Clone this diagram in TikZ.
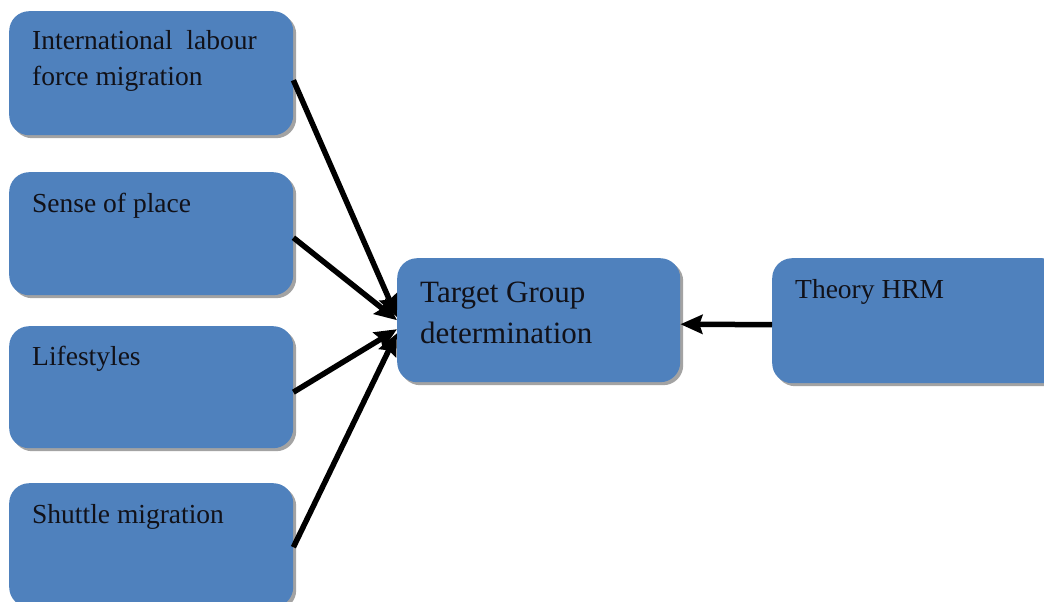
\documentclass[tikz,border=0pt]{standalone}
\usepackage{fontspec}
\setmainfont{Liberation Serif}
\usetikzlibrary{arrows.meta,shadows}
\definecolor{boxblue}{HTML}{4F81BD}
\definecolor{inkdark}{HTML}{111118}
\begin{document}
\begin{tikzpicture}[x=1pt,y=-1pt,
  box/.style 2 args={fill=boxblue, draw=none, rounded corners=20pt,
    minimum width=#1, minimum height=#2, inner sep=0pt, anchor=north west,
    drop shadow={shadow xshift=3pt, shadow yshift=-3pt, fill=black!40, opacity=0.9}},
  lab/.style={anchor=base west, inner sep=0pt, align=left, text=inkdark,
    font=\fontsize{27.5}{35}\selectfont},
  biglab/.style={lab, font=\fontsize{31}{41}\selectfont},
  link/.style={line width=5.5pt, -{Stealth[length=22pt,width=19pt,inset=3pt]}}]
\useasboundingbox (0,0) rectangle (1044,602);

% factor boxes on the left
\node[box={284pt}{124pt}] (b1) at (9,11) {};
\node[box={284pt}{123pt}] (b2) at (9,172) {};
\node[box={284pt}{122pt}] (b3) at (9,326) {};
\node[box={284pt}{124pt}] (b4) at (9,483) {};
% target and theory boxes
\node[box={283pt}{124pt}] (tg) at (397,258) {};
\node[box={290pt}{125pt}] (th) at (772,258) {};

% labels
\node[lab] (l1a) at ([shift={(23,39)}]b1.north west) {International\ \ labour};
\node[lab] (l1b) at ([shift={(23,74)}]b1.north west) {force migration};
\node[lab] (l2) at ([shift={(23,40)}]b2.north west) {Sense of place};
\node[lab] (l3) at ([shift={(23,39)}]b3.north west) {Lifestyles};
\node[lab] (l4) at ([shift={(23,40)}]b4.north west) {Shuttle migration};
\node[biglab] (lta) at ([shift={(23,44)}]tg.north west) {Target Group};
\node[biglab] (ltb) at ([shift={(23,85)}]tg.north west) {determination};
\node[lab] (lh) at ([shift={(23,40)}]th.north west) {Theory HRM};

% connectors
\draw[link] ([yshift=-7pt]b1.east) -- ([yshift=3pt]tg.west);
\draw[link] ([yshift=-4pt]b2.east) -- ([yshift=0pt]tg.west);
\draw[link] ([yshift=-5pt]b3.east) -- ([yshift=-9pt]tg.west);
\draw[link] ([yshift=-2pt]b4.east) -- ([yshift=-13pt]tg.west);
\draw[link] ([yshift=-4pt]th.west) -- ([yshift=-4pt]tg.east);
\end{tikzpicture}
\end{document}
